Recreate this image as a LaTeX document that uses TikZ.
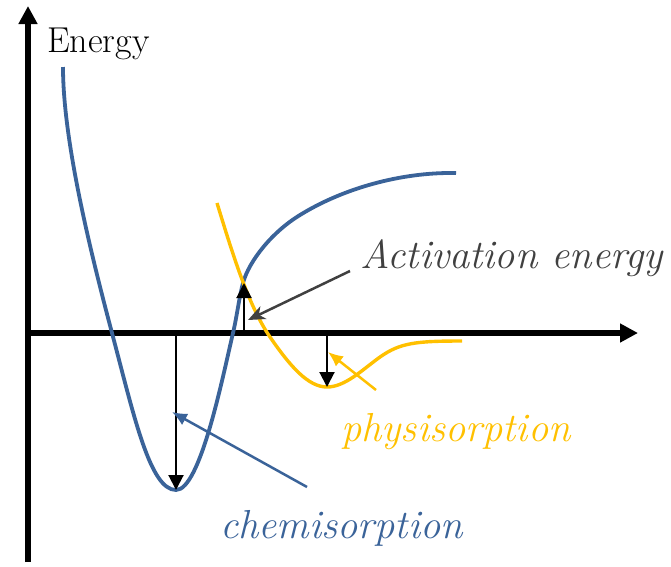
\documentclass[tikz,border=0pt]{standalone}
\usepackage{fontspec}
\usepackage{tikz}
\usetikzlibrary{arrows.meta}
\definecolor{chemblue}{HTML}{3A6399}
\definecolor{physyellow}{HTML}{FFC000}
\definecolor{notegray}{HTML}{404040}

\begin{document}
\begin{tikzpicture}[x=1pt, y=-1pt,
  axis/.style={line width=5.5pt, -{Triangle[length=18pt, width=18pt]}},
  depth/.style={line width=2pt, -{Triangle[length=15pt, width=15pt]}},
  curve/.style={line width=3.8pt},
  pointer/.style={line width=2.5pt, -{Latex[length=15pt, width=13pt]}},
  tag/.style={anchor=base west, inner sep=0pt, font=\fontsize{40.5}{47}\selectfont\itshape},
]
  \useasboundingbox (0,0) rectangle (671,566);

  % axes
  \coordinate (origin) at (28,333);
  \coordinate (ybottom) at (28,562);
  \coordinate (ytop)   at (28,6);
  \coordinate (xend)   at (638,333);
  \draw[axis] (ybottom) -- (ytop);
  \draw[axis] (origin) -- (xend);
  \node[anchor=base west, inner sep=0pt, font=\fontsize{36}{42}\selectfont]
    (ylabel) at (47,52) {Energy};

  % potential curves
  \draw[curve, chemblue] (63,67) .. controls (63,140) and (90,250) .. (112,333)
    .. controls (134,416) and (150,490) .. (176,490)
    .. controls (200,490) and (222,380) .. (233,333)
    .. controls (237,316) and (239,298) .. (243,283)
    .. controls (249,261) and (272,232) .. (300,215)
    .. controls (342,189) and (400,172) .. (456,173);
  \draw[curve, physyellow, line width=3.4pt] (217,203)
    .. controls (232,252) and (248,305) .. (270,337)
    .. controls (290,366) and (308,387) .. (327,387)
    .. controls (345,387) and (362,370) .. (380,357)
    .. controls (400,343) and (415,341) .. (462,341);

  % well depths and barrier
  \coordinate (chemtop) at (176,333);
  \coordinate (chemmin) at (176,490);
  \coordinate (phystop) at (327,333);
  \coordinate (physmin) at (327,387);
  \coordinate (barbase) at (244,333);
  \coordinate (cross)   at (244,283);
  \draw[depth] (chemtop) -- (chemmin);
  \draw[depth] (phystop) -- (physmin);
  \draw[depth] (barbase) -- (cross);

  % labels
  \node[tag, text=notegray]   (actlbl)  at (360,268) {Activation energy};
  \node[tag, text=physyellow] (physlbl) at (341,441) {physisorption};
  \node[tag, text=chemblue]   (chemlbl) at (220,538) {chemisorption};

  \coordinate (actfrom)  at (350,271);
  \coordinate (acttip)   at (248,320);
  \coordinate (physfrom) at (376,390);
  \coordinate (phystip)  at (328,352);
  \coordinate (chemfrom) at (307,487);
  \coordinate (chemtip)  at (172,412);
  \draw[pointer, notegray, -{Stealth[length=17pt, width=14pt, inset=5pt]}] (actfrom) -- (acttip);
  \draw[pointer, physyellow] (physfrom) -- (phystip);
  \draw[pointer, chemblue] (chemfrom) -- (chemtip);
\end{tikzpicture}
\end{document}
